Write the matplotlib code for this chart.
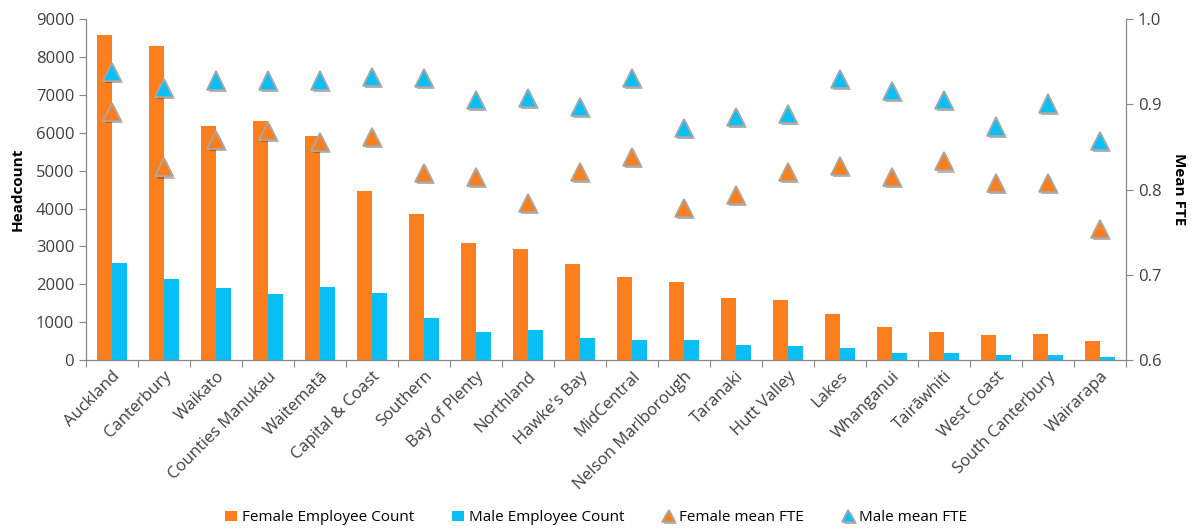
import matplotlib
matplotlib.use("Agg")
import matplotlib.pyplot as plt
import matplotlib.patheffects as pe
import numpy as np

# Data
regions = [
    "Auckland", "Canterbury", "Waikato", "Counties Manukau", "Waitematā",
    "Capital & Coast", "Southern", "Bay of Plenty", "Northland", "Hawke's Bay",
    "MidCentral", "Nelson Marlborough", "Taranaki", "Hutt Valley", "Lakes",
    "Whanganui", "Tairāwhiti", "West Coast", "South Canterbury", "Wairarapa",
]
female_count = [8580, 8300, 6190, 6320, 5920, 4450, 3850, 3100, 2930, 2530,
                2180, 2060, 1640, 1590, 1210, 880, 740, 660, 690, 500]
male_count = [2550, 2140, 1890, 1730, 1920, 1780, 1110, 750, 780, 580,
              530, 530, 400, 370, 320, 180, 180, 140, 120, 70]
female_fte = [0.891, 0.826, 0.858, 0.869, 0.856, 0.862, 0.819, 0.815, 0.784, 0.821,
              0.838, 0.778, 0.794, 0.821, 0.828, 0.815, 0.833, 0.808, 0.808, 0.754]
male_fte = [0.938, 0.919, 0.928, 0.928, 0.928, 0.932, 0.931, 0.905, 0.907, 0.897,
            0.931, 0.872, 0.885, 0.889, 0.930, 0.916, 0.905, 0.874, 0.901, 0.857]

ORANGE = "#FD7E1C"
BLUE = "#0ABEF6"
GREY = "#868686"

plt.rcParams["font.family"] = ["Open Sans", "DejaVu Sans"]

fig = plt.figure(figsize=(11.92, 5.31), dpi=100)
ax = fig.add_axes([0.0721, 0.322, 0.8725, 0.642])
ax2 = ax.twinx()

x = np.arange(len(regions))
w = 0.28
ax.bar(x - w / 2, female_count, w, color=ORANGE, label="Female Employee Count", zorder=2)
ax.bar(x + w / 2, male_count, w, color=BLUE, label="Male Employee Count", zorder=2)

shadow = [pe.SimplePatchShadow(offset=(1.5, -1.5), alpha=0.35), pe.Normal()]
ax2.plot(x, female_fte, ls="none", marker="^", ms=13, mfc=ORANGE, mec="#A8A8A8",
         mew=1.3, label="Female mean FTE", path_effects=shadow, zorder=3)
ax2.plot(x, male_fte, ls="none", marker="^", ms=13, mfc=BLUE, mec="#A8A8A8",
         mew=1.3, label="Male mean FTE", path_effects=shadow, zorder=3)

ax.set_xlim(-0.5, len(regions) - 0.5)
ax.set_ylim(0, 9000)
ax.set_yticks(range(0, 9001, 1000))
ax2.set_ylim(0.6, 1.0)
ax2.set_yticks([0.6, 0.7, 0.8, 0.9, 1.0])
ax2.set_yticklabels([f"{v:.1f}" for v in [0.6, 0.7, 0.8, 0.9, 1.0]])

# category ticks at boundaries, labels at centers
ax.set_xticks(np.arange(len(regions) + 1) - 0.5)
ax.set_xticklabels([])
ax.set_xticks(x, minor=True)
ax.set_xticklabels(regions, minor=True, rotation=45, ha="right",
                   rotation_mode="anchor", fontsize=12, color="#404040")
ax.tick_params(axis="x", which="minor", length=0, pad=6)
ax.tick_params(axis="x", which="major", length=5, color=GREY)

for a in (ax, ax2):
    a.spines["top"].set_visible(False)
    for s in ("left", "right", "bottom"):
        a.spines[s].set_color(GREY)
    a.tick_params(axis="y", length=5, color=GREY, labelsize=12, labelcolor="#404040")

ax.set_ylabel("Headcount", fontsize=11, fontweight="bold", labelpad=8)
ax2.set_ylabel("Mean FTE", fontsize=11, fontweight="bold", rotation=270, labelpad=18)

h1, l1 = ax.get_legend_handles_labels()
h2, l2 = ax2.get_legend_handles_labels()
fig.legend(h1 + h2, l1 + l2, loc="center", bbox_to_anchor=(0.5, 0.025), ncol=4,
           frameon=False, fontsize=11, handlelength=0.8, handletextpad=0.3,
           columnspacing=2.5, markerscale=0.7)

fig.savefig("out.png", dpi=100)
